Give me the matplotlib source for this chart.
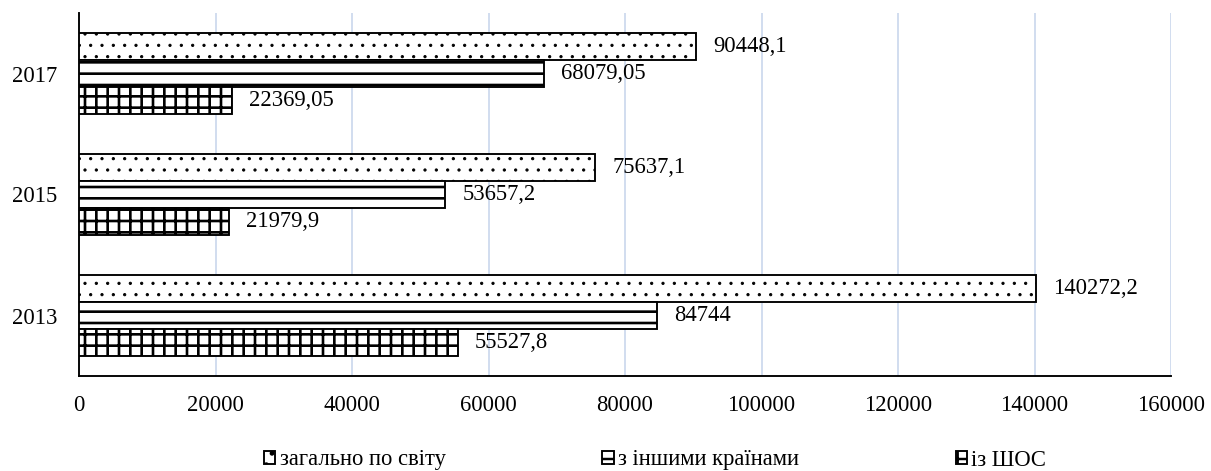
import numpy as np
import matplotlib
matplotlib.use("Agg")
import matplotlib.pyplot as plt

plt.rcParams['font.family'] = ['Liberation Serif', 'DejaVu Serif']
plt.rcParams['font.size'] = 12
plt.rcParams['hatch.linewidth'] = 1.3

# дані з діаграми
years = ['2013', '2015', '2017']
world_total = [140272.2, 75637.1, 90448.1]   # загально по світу
other_countries = [84744, 53657.2, 68079.05]  # з іншими країнами
sco = [55527.8, 21979.9, 22369.05]            # із ШОС
series_names = ['загально по світу', 'з іншими країнами', 'із ШОС']
x_ticks = [0, 20000, 40000, 60000, 80000, 100000, 120000, 140000, 160000]


def fmt(v):
    s = f"{v:.2f}".rstrip('0').rstrip('.')
    return s.replace('.', ',')


DPI = 136
fig = plt.figure(figsize=(1211 / DPI, 471 / DPI), dpi=DPI)
ax = fig.add_axes([79 / 1211, 1 - 376 / 471, (1171 - 79) / 1211, (376 - 13) / 471])

y = np.arange(len(years))
h = 0.222
series = [world_total, other_countries, sco]
hatches = ['..', '--', '++']
hatch_lw = [0.5, 1.4, 1.4]
offsets = [h, 0, -h]

for vals, name, hatch, hlw, off in zip(series, series_names, hatches, hatch_lw, offsets):
    bars = ax.barh(y + off, vals, height=h, color='white', edgecolor='black',
                   linewidth=1.0, hatch=hatch, label=name, zorder=3)
    for b, v in zip(bars, vals):
        if hasattr(b, 'set_hatch_linewidth'):
            b.set_hatch_linewidth(hlw)
        ax.annotate(fmt(v), (b.get_width(), b.get_y() + b.get_height() / 2),
                    xytext=(9, 0), textcoords='offset points',
                    ha='left', va='center', fontsize=12, zorder=4)

ax.set_xlim(0, 160000)
ax.set_ylim(-0.5, 2.5)
ax.set_xticks(x_ticks)
ax.set_xticklabels([str(t) for t in x_ticks])
ax.set_yticks(y)
ax.set_yticklabels(years)
ax.tick_params(axis='x', length=0, pad=10)
ax.tick_params(axis='y', length=0, pad=11.5)

ax.grid(axis='x', color='#d0dcef', linewidth=1.0, zorder=0)
ax.set_axisbelow(True)
for side in ['top', 'right']:
    ax.spines[side].set_visible(False)
ax.spines['left'].set_color('black')
ax.spines['bottom'].set_color('black')
ax.spines['left'].set_linewidth(1.0)
ax.spines['bottom'].set_linewidth(1.0)

fig.legend(loc='center', bbox_to_anchor=(0.541, 1 - 460 / 471), ncol=3,
           frameon=False, handlelength=0.5, handleheight=0.55,
           handletextpad=0.2, columnspacing=6.9, fontsize=12)

fig.savefig('out.png', dpi=DPI)
